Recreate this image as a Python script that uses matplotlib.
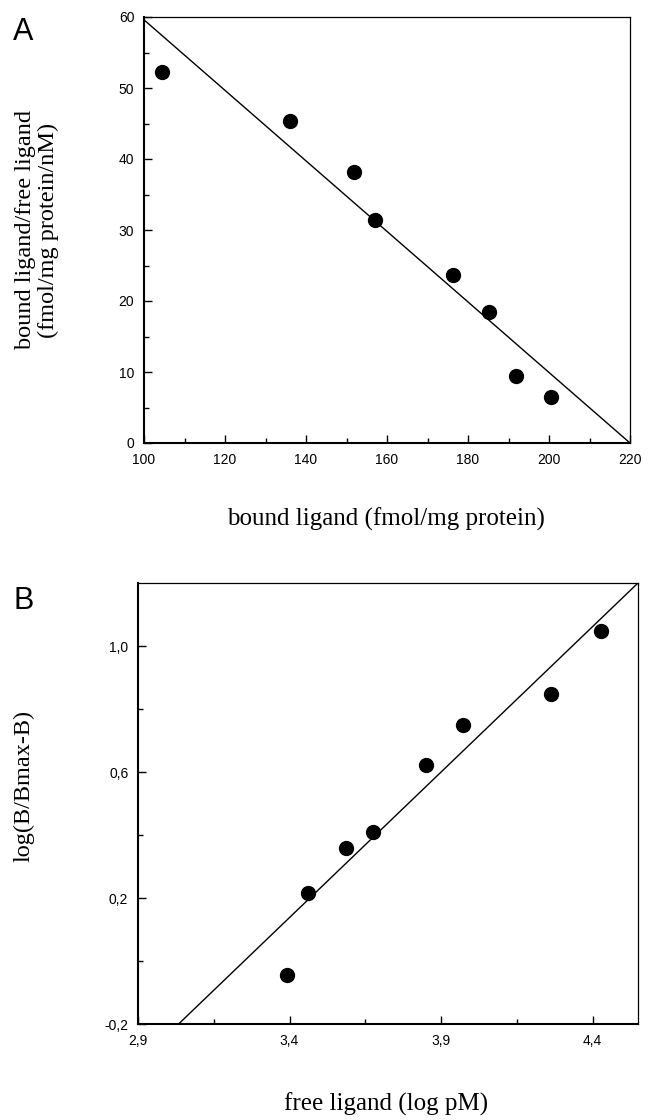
import matplotlib
matplotlib.use("Agg")
import matplotlib.pyplot as plt
from matplotlib.ticker import MultipleLocator, FuncFormatter

# Panel A : Scatchard plot
bound_a = [104.5, 136.0, 151.8, 157.1, 176.2, 185.2, 191.9, 200.5]
ratio_a = [52.3, 45.4, 38.1, 31.4, 23.6, 18.5, 9.5, 6.5]
fit_a_x = [100, 220]
fit_a_y = [59.6, 0]

# Panel B : Hill plot
free_b = [3.391, 3.462, 3.586, 3.675, 3.850, 3.974, 4.262, 4.428]
hill_b = [-0.043, 0.215, 0.358, 0.408, 0.622, 0.749, 0.848, 1.047]
fit_b_x = [3.034, 4.55]
fit_b_y = [-0.2, 1.2]

W, H = 648, 1120
SERIF = "Liberation Serif"
SANS = "Liberation Sans"


def style_axes(ax):
    for s in ["top", "right"]:
        ax.spines[s].set_linewidth(0.9)
    for s in ["left", "bottom"]:
        ax.spines[s].set_linewidth(1.5)
    ax.tick_params(which="both", direction="in", top=False, right=False,
                   labelsize=10, pad=7, width=1.0)
    ax.tick_params(which="major", length=6)
    ax.tick_params(which="minor", length=3.5)
    for lab in ax.get_xticklabels() + ax.get_yticklabels():
        lab.set_family(SANS)


fig = plt.figure(figsize=(W / 100, H / 100), dpi=100)

# ---- A ----
axA = fig.add_axes([144 / W, 1 - 443 / H, (630 - 144) / W, (443 - 17) / H])
axA.plot(fit_a_x, fit_a_y, color="black", lw=1.0)
axA.plot(bound_a, ratio_a, "o", color="black", ms=10)
axA.set_xlim(100, 220)
axA.set_ylim(0, 60)
axA.xaxis.set_major_locator(MultipleLocator(20))
axA.xaxis.set_minor_locator(MultipleLocator(10))
axA.yaxis.set_major_locator(MultipleLocator(10))
axA.yaxis.set_minor_locator(MultipleLocator(5))
style_axes(axA)

# ---- B ----
comma = FuncFormatter(lambda v, p: f"{v:.1f}".replace(".", ","))
axB = fig.add_axes([138 / W, 1 - 1024 / H, (638 - 138) / W, (1024 - 583) / H])
axB.plot(fit_b_x, fit_b_y, color="black", lw=1.0)
axB.plot(free_b, hill_b, "o", color="black", ms=10)
axB.set_xlim(2.9, 4.55)
axB.set_ylim(-0.2, 1.2)
axB.set_xticks([2.9, 3.4, 3.9, 4.4])
axB.set_xticks([3.15, 3.65, 4.15], minor=True)
axB.set_yticks([-0.2, 0.2, 0.6, 1.0])
axB.set_yticks([0.0, 0.4, 0.8], minor=True)
axB.xaxis.set_major_formatter(comma)
axB.yaxis.set_major_formatter(comma)
style_axes(axB)

# labels
fig.text(13 / W, 1 - 32 / H, "A", fontsize=22, family=SANS, va="center", ha="left")
fig.text(14 / W, 1 - 601 / H, "B", fontsize=22, family=SANS, va="center", ha="left")

fig.text(386 / W, 1 - 519 / H, "bound ligand (fmol/mg protein)", fontsize=18,
         family=SERIF, ha="center", va="center")
fig.text(37 / W, 1 - 230 / H, "bound ligand/free ligand\n(fmol/mg protein/nM)",
         fontsize=17.5, family=SERIF, ha="center", va="center", rotation=90,
         multialignment="center", linespacing=1.15)

fig.text(386 / W, 1 - 1104 / H, "free ligand (log pM)", fontsize=18,
         family=SERIF, ha="center", va="center")
fig.text(24 / W, 1 - 786 / H, "log(B/Bmax-B)", fontsize=17.5, family=SERIF,
         ha="center", va="center", rotation=90)

fig.savefig("out.png", dpi=100)
